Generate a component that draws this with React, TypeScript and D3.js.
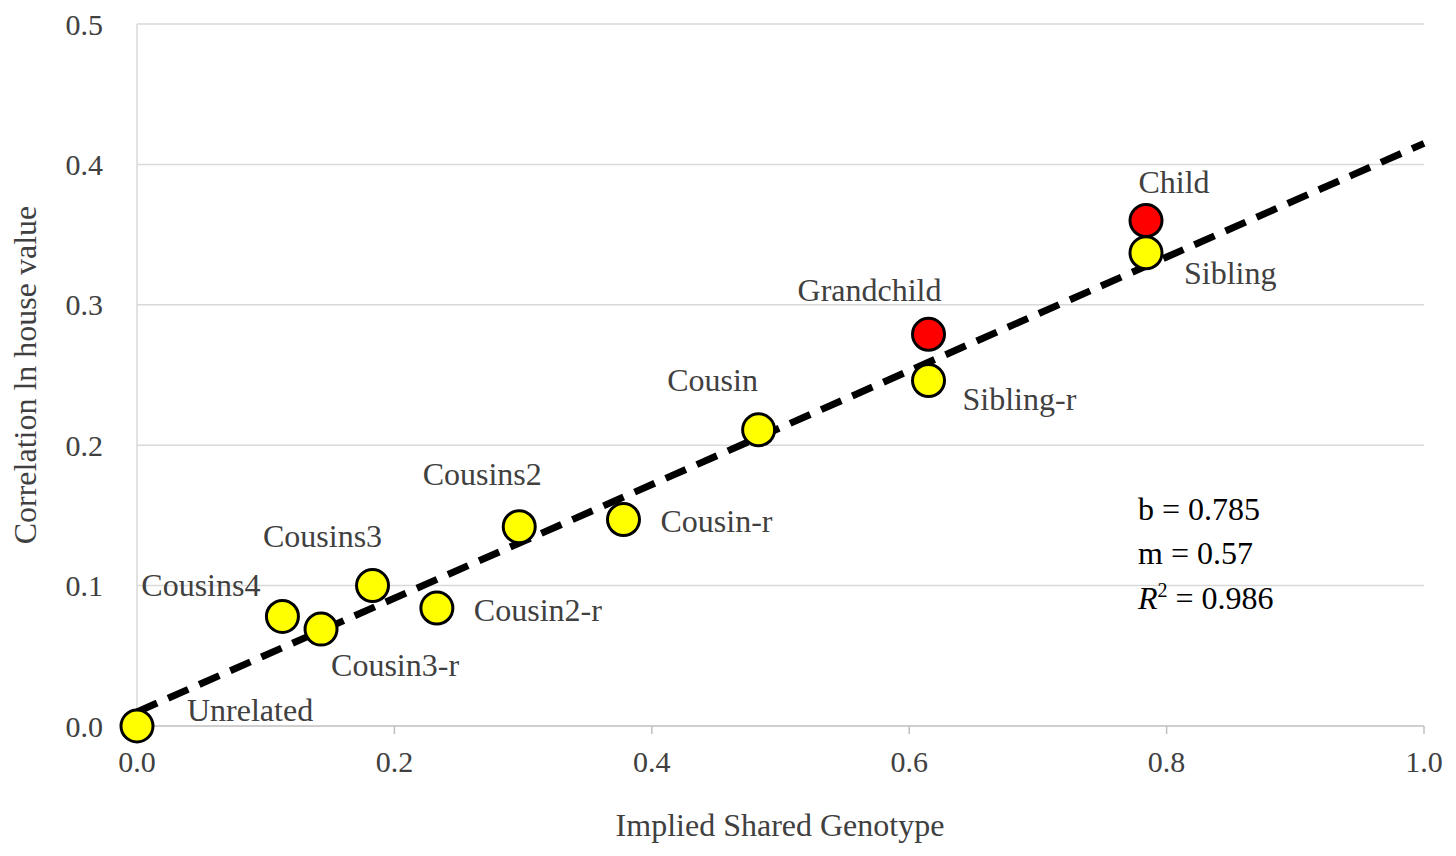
import * as d3 from 'd3';

const names = ['Unrelated', 'Cousins4', 'Cousin3-r', 'Cousins3', 'Cousin2-r', 'Cousins2', 'Cousin-r', 'Cousin', 'Sibling-r', 'Grandchild', 'Sibling', 'Child'];
const shared = [0, 0.113, 0.143, 0.183, 0.233, 0.297, 0.378, 0.483, 0.615, 0.615, 0.784, 0.784];
const corr = [0, 0.078, 0.069, 0.1, 0.084, 0.142, 0.147, 0.211, 0.246, 0.279, 0.337, 0.36];
const isRed = [false, false, false, false, false, false, false, false, false, true, false, true];
const xTicks = [0, 0.2, 0.4, 0.6, 0.8, 1.0];
const yTicks = [0, 0.1, 0.2, 0.3, 0.4, 0.5];
const fit = { intercept: 0.01, slope: 0.405 };
const statLines = ['b = 0.785', 'm = 0.57'];

// label placement [dx, dy, anchor]
const labelPos: [number, number, string][] = [
  [50, -16, 'start'], [-22, -32, 'end'], [10, 36, 'start'], [-50, -50, 'middle'],
  [37, 2, 'start'], [-37, -53, 'middle'], [37, 1, 'start'], [-46, -50, 'middle'],
  [34, 18, 'start'], [-59, -44, 'middle'], [38, 20, 'start'], [28, -39, 'middle'],
];

const W = 1456, H = 856;
const FONT = '"Liberation Serif", "Times New Roman", serif';

export default function App() {
  const x = d3.scaleLinear().domain([0, 1]).range([137, 1424]);
  const y = d3.scaleLinear().domain([0, 0.5]).range([726, 24]);
  const line = d3.line<number>().x((d) => x(d)).y((d) => y(fit.intercept + fit.slope * d));

  return (
    <div style={{ position: 'fixed', left: 0, top: 0 }}>
      <svg width={W} height={H} style={{ background: '#fff', fontFamily: FONT }}>
        {yTicks.slice(1).map((t) => (
          <line key={t} x1={x(0)} x2={x(1)} y1={y(t)} y2={y(t)} stroke="#d9d9d9" strokeWidth={1.5} />
        ))}
        <line x1={x(0)} x2={x(0)} y1={y(0.5)} y2={y(0)} stroke="#d9d9d9" strokeWidth={1.5} />
        <line x1={x(0)} x2={x(1)} y1={y(0)} y2={y(0)} stroke="#bfbfbf" strokeWidth={1.5} />
        {xTicks.map((t) => (
          <g key={t}>
            <line x1={x(t)} x2={x(t)} y1={y(0)} y2={y(0) + 8} stroke="#bfbfbf" strokeWidth={1.5} />
            <text x={x(t)} y={y(0) + 46} textAnchor="middle" fontSize={30} fill="#404040">{t.toFixed(1)}</text>
          </g>
        ))}
        {yTicks.map((t) => (
          <text key={t} x={103} y={y(t)} dy="0.35em" textAnchor="end" fontSize={30} fill="#404040">{t.toFixed(1)}</text>
        ))}
        <text x={780} y={836} textAnchor="middle" fontSize={32} fill="#404040">Implied Shared Genotype</text>
        <text transform="translate(36,375) rotate(-90)" textAnchor="middle" fontSize={32} fill="#404040">Correlation ln house value</text>
        <path d={line([0, 1]) ?? ''} stroke="#000" strokeWidth={7} strokeDasharray="22 12" fill="none" />
        {names.map((n, i) => (
          <g key={n}>
            <circle cx={x(shared[i])} cy={y(corr[i])} r={16} fill={isRed[i] ? '#ff0000' : '#ffff00'} stroke="#000" strokeWidth={3} />
            <text x={x(shared[i]) + labelPos[i][0]} y={y(corr[i]) + labelPos[i][1]} dy="0.35em"
              textAnchor={labelPos[i][2] as any} fontSize={32} fill="#404040">{n}</text>
          </g>
        ))}
        <g fontSize={32} fill="#000">
          {statLines.map((s, i) => (
            <text key={s} x={1138} y={509 + i * 44} dy="0.35em">{s}</text>
          ))}
          <text x={1138} y={598} dy="0.35em">
            <tspan fontStyle="italic">R</tspan>
            <tspan dy={-12} fontSize={20}>2</tspan>
            <tspan dy={12}> = 0.986</tspan>
          </text>
        </g>
      </svg>
    </div>
  );
}
